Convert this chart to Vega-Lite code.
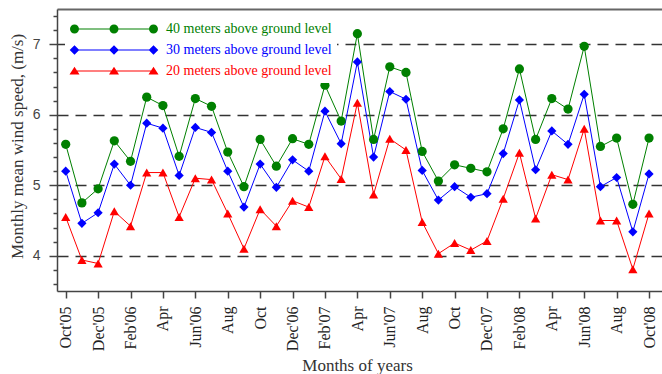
{
  "$schema": "https://vega.github.io/schema/vega-lite/v6.json",
  "width": 605,
  "height": 282,
  "autosize": {"type": "none"},
  "padding": {"left": 57, "top": 9, "right": 0, "bottom": 83},
  "background": "white",
  "config": {
    "view": {"stroke": null},
    "font": "Liberation Serif"
  },
  "data": {"values": [
    {"m":0,"series":"40 meters above ground level","speed":5.58},{"m":1,"series":"40 meters above ground level","speed":4.75},{"m":2,"series":"40 meters above ground level","speed":4.95},{"m":3,"series":"40 meters above ground level","speed":5.63},{"m":4,"series":"40 meters above ground level","speed":5.34},{"m":5,"series":"40 meters above ground level","speed":6.25},{"m":6,"series":"40 meters above ground level","speed":6.13},{"m":7,"series":"40 meters above ground level","speed":5.41},{"m":8,"series":"40 meters above ground level","speed":6.23},{"m":9,"series":"40 meters above ground level","speed":6.12},{"m":10,"series":"40 meters above ground level","speed":5.47},{"m":11,"series":"40 meters above ground level","speed":4.98},{"m":12,"series":"40 meters above ground level","speed":5.65},{"m":13,"series":"40 meters above ground level","speed":5.27},{"m":14,"series":"40 meters above ground level","speed":5.66},{"m":15,"series":"40 meters above ground level","speed":5.58},{"m":16,"series":"40 meters above ground level","speed":6.42},{"m":17,"series":"40 meters above ground level","speed":5.91},{"m":18,"series":"40 meters above ground level","speed":7.15},{"m":19,"series":"40 meters above ground level","speed":5.65},{"m":20,"series":"40 meters above ground level","speed":6.68},{"m":21,"series":"40 meters above ground level","speed":6.60},{"m":22,"series":"40 meters above ground level","speed":5.48},{"m":23,"series":"40 meters above ground level","speed":5.06},{"m":24,"series":"40 meters above ground level","speed":5.29},{"m":25,"series":"40 meters above ground level","speed":5.24},{"m":26,"series":"40 meters above ground level","speed":5.19},{"m":27,"series":"40 meters above ground level","speed":5.80},{"m":28,"series":"40 meters above ground level","speed":6.65},{"m":29,"series":"40 meters above ground level","speed":5.65},{"m":30,"series":"40 meters above ground level","speed":6.23},{"m":31,"series":"40 meters above ground level","speed":6.08},{"m":32,"series":"40 meters above ground level","speed":6.97},{"m":33,"series":"40 meters above ground level","speed":5.55},{"m":34,"series":"40 meters above ground level","speed":5.67},{"m":35,"series":"40 meters above ground level","speed":4.73},{"m":36,"series":"40 meters above ground level","speed":5.67},
    {"m":0,"series":"30 meters above ground level","speed":5.20},{"m":1,"series":"30 meters above ground level","speed":4.46},{"m":2,"series":"30 meters above ground level","speed":4.61},{"m":3,"series":"30 meters above ground level","speed":5.30},{"m":4,"series":"30 meters above ground level","speed":5.00},{"m":5,"series":"30 meters above ground level","speed":5.88},{"m":6,"series":"30 meters above ground level","speed":5.81},{"m":7,"series":"30 meters above ground level","speed":5.14},{"m":8,"series":"30 meters above ground level","speed":5.82},{"m":9,"series":"30 meters above ground level","speed":5.75},{"m":10,"series":"30 meters above ground level","speed":5.20},{"m":11,"series":"30 meters above ground level","speed":4.69},{"m":12,"series":"30 meters above ground level","speed":5.30},{"m":13,"series":"30 meters above ground level","speed":4.97},{"m":14,"series":"30 meters above ground level","speed":5.36},{"m":15,"series":"30 meters above ground level","speed":5.20},{"m":16,"series":"30 meters above ground level","speed":6.05},{"m":17,"series":"30 meters above ground level","speed":5.59},{"m":18,"series":"30 meters above ground level","speed":6.75},{"m":19,"series":"30 meters above ground level","speed":5.40},{"m":20,"series":"30 meters above ground level","speed":6.33},{"m":21,"series":"30 meters above ground level","speed":6.22},{"m":22,"series":"30 meters above ground level","speed":5.21},{"m":23,"series":"30 meters above ground level","speed":4.79},{"m":24,"series":"30 meters above ground level","speed":4.98},{"m":25,"series":"30 meters above ground level","speed":4.83},{"m":26,"series":"30 meters above ground level","speed":4.88},{"m":27,"series":"30 meters above ground level","speed":5.45},{"m":28,"series":"30 meters above ground level","speed":6.21},{"m":29,"series":"30 meters above ground level","speed":5.22},{"m":30,"series":"30 meters above ground level","speed":5.77},{"m":31,"series":"30 meters above ground level","speed":5.58},{"m":32,"series":"30 meters above ground level","speed":6.29},{"m":33,"series":"30 meters above ground level","speed":4.98},{"m":34,"series":"30 meters above ground level","speed":5.11},{"m":35,"series":"30 meters above ground level","speed":4.34},{"m":36,"series":"30 meters above ground level","speed":5.16},
    {"m":0,"series":"20 meters above ground level","speed":4.55},{"m":1,"series":"20 meters above ground level","speed":3.94},{"m":2,"series":"20 meters above ground level","speed":3.89},{"m":3,"series":"20 meters above ground level","speed":4.63},{"m":4,"series":"20 meters above ground level","speed":4.42},{"m":5,"series":"20 meters above ground level","speed":5.18},{"m":6,"series":"20 meters above ground level","speed":5.18},{"m":7,"series":"20 meters above ground level","speed":4.55},{"m":8,"series":"20 meters above ground level","speed":5.10},{"m":9,"series":"20 meters above ground level","speed":5.08},{"m":10,"series":"20 meters above ground level","speed":4.60},{"m":11,"series":"20 meters above ground level","speed":4.10},{"m":12,"series":"20 meters above ground level","speed":4.66},{"m":13,"series":"20 meters above ground level","speed":4.42},{"m":14,"series":"20 meters above ground level","speed":4.78},{"m":15,"series":"20 meters above ground level","speed":4.69},{"m":16,"series":"20 meters above ground level","speed":5.41},{"m":17,"series":"20 meters above ground level","speed":5.09},{"m":18,"series":"20 meters above ground level","speed":6.17},{"m":19,"series":"20 meters above ground level","speed":4.87},{"m":20,"series":"20 meters above ground level","speed":5.66},{"m":21,"series":"20 meters above ground level","speed":5.50},{"m":22,"series":"20 meters above ground level","speed":4.48},{"m":23,"series":"20 meters above ground level","speed":4.03},{"m":24,"series":"20 meters above ground level","speed":4.18},{"m":25,"series":"20 meters above ground level","speed":4.08},{"m":26,"series":"20 meters above ground level","speed":4.21},{"m":27,"series":"20 meters above ground level","speed":4.81},{"m":28,"series":"20 meters above ground level","speed":5.46},{"m":29,"series":"20 meters above ground level","speed":4.53},{"m":30,"series":"20 meters above ground level","speed":5.15},{"m":31,"series":"20 meters above ground level","speed":5.08},{"m":32,"series":"20 meters above ground level","speed":5.80},{"m":33,"series":"20 meters above ground level","speed":4.50},{"m":34,"series":"20 meters above ground level","speed":4.50},{"m":35,"series":"20 meters above ground level","speed":3.81},{"m":36,"series":"20 meters above ground level","speed":4.60}
  ]},
  "resolve": {"axis": {"x": "independent", "y": "independent"}},
  "layer": [
    {
      "mark": {"type": "line", "strokeWidth": 1, "clip": false},
      "encoding": {
        "x": {
          "field": "m", "type": "quantitative",
          "scale": {"domain": [-0.537, 36.8], "nice": false, "zero": false},
          "axis": {
            "orient": "bottom",
            "values": [0,2,4,6,8,10,12,14,16,18,20,22,24,26,28,30,32,34,36],
            "labelExpr": "[\"Oct'05\",\"Dec'05\",\"Feb'06\",\"Apr\",\"Jun'06\",\"Aug\",\"Oct\",\"Dec'06\",\"Feb'07\",\"Apr\",\"Jun'07\",\"Aug\",\"Oct\",\"Dec'07\",\"Feb'08\",\"Apr\",\"Jun'08\",\"Aug\",\"Oct'08\"][round(datum.value/2)]",
            "labelAngle": 270, "labelAlign": "right", "labelBaseline": "middle",
            "labelFont": "Liberation Serif", "labelFontSize": 16, "labelColor": "#222",
            "labelPadding": 8, "labelOverlap": false, "labelFlush": false, "labelBound": false,
            "tickSize": 7, "tickColor": "#444", "tickWidth": 1.5,
            "domainColor": "#444", "domainWidth": 1.5,
            "grid": false,
            "title": "Months of years",
            "titleFont": "Liberation Serif", "titleFontSize": 17, "titleFontWeight": "normal", "titleColor": "#333",
            "titleX": 300, "titleY": 79, "titleBaseline": "alphabetic", "titleAlign": "center"
          }
        },
        "y": {
          "field": "speed", "type": "quantitative",
          "scale": {"domain": [3.5, 7.5], "nice": false, "zero": false},
          "axis": {
            "orient": "left",
            "values": [4, 5, 6, 7],
            "grid": true, "gridDash": [11, 7], "gridColor": "#333", "gridWidth": 1.5,
            "tickSize": 8, "tickColor": "#444", "tickWidth": 1.5,
            "domainColor": "#444", "domainWidth": 1.5,
            "labelFont": "Liberation Sans", "labelFontSize": 14, "labelColor": "#444", "labelPadding": 9,
            "title": "Monthly mean wind speed, (m/s)",
            "titleFont": "Liberation Serif", "titleFontSize": 17, "titleFontWeight": "normal", "titleColor": "#333",
            "titleAngle": 270, "titleX": -40, "titleY": 137, "titleBaseline": "middle", "titleAlign": "center"
          }
        },
        "color": {
          "field": "series", "type": "nominal",
          "scale": {
            "domain": ["40 meters above ground level", "30 meters above ground level", "20 meters above ground level"],
            "range": ["#008000", "#0000ff", "#ff0000"]
          },
          "legend": {
            "orient": "none", "legendX": 8, "legendY": 8,
            "title": null, "direction": "vertical",
            "fillColor": "white", "padding": 5,
            "symbolSize": 100, "symbolStrokeWidth": 0, "symbolOffset": 37, "symbolOpacity": 1,
            "symbolFillColor": {"expr": "datum.value === '30 meters above ground level' ? '#0000ff' : datum.value === '20 meters above ground level' ? '#ff0000' : '#008000'"},
            "symbolType": {"expr": "datum.value === '30 meters above ground level' ? 'M-7.9,-0.1H7.9V0.1H-7.9Z M-8.86,0L-7.9,-0.96L-6.94,0L-7.9,0.96Z M-0.96,0L0,-0.96L0.96,0L0,0.96Z M6.94,0L7.9,-0.96L8.86,0L7.9,0.96Z' : datum.value === '20 meters above ground level' ? 'M-7.9,-0.1H7.9V0.1H-7.9Z M-7.9,-0.85L-6.9,0.7L-8.9,0.7Z M0,-0.85L1,0.7L-1,0.7Z M7.9,-0.85L8.9,0.7L6.9,0.7Z' : 'M-7.9,-0.1H7.9V0.1H-7.9Z M-8.8,0A0.9,0.9 0 1 1 -7,0A0.9,0.9 0 1 1 -8.8,0Z M-0.9,0A0.9,0.9 0 1 1 0.9,0A0.9,0.9 0 1 1 -0.9,0Z M7,0A0.9,0.9 0 1 1 8.8,0A0.9,0.9 0 1 1 7,0Z'"},
            "labelColor": {"expr": "datum.value === '30 meters above ground level' ? '#0000ff' : datum.value === '20 meters above ground level' ? '#ff0000' : '#008000'"},
            "labelOffset": 45, "labelFont": "Liberation Serif", "labelFontSize": 14, "rowPadding": 7,
            "labelLimit": 400
          }
        }
      }
    },
    {
      "mark": {"type": "point", "filled": true, "opacity": 1, "size": 85, "strokeWidth": 0, "clip": false},
      "encoding": {
        "x": {
          "field": "m", "type": "quantitative",
          "axis": {
            "orient": "top", "domain": true, "domainColor": "#666", "domainWidth": 2,
            "ticks": false, "labels": false, "grid": false, "title": null
          }
        },
        "y": {
          "field": "speed", "type": "quantitative",
          "axis": {
            "orient": "left",
            "values": [3.6, 3.8, 4.2, 4.4, 4.6, 4.8, 5.2, 5.4, 5.6, 5.8, 6.2, 6.4, 6.6, 6.8, 7.2, 7.4],
            "domain": false, "grid": false, "labels": false, "title": null,
            "tickSize": 4, "tickColor": "#444", "tickWidth": 1.5
          }
        },
        "color": {"field": "series", "type": "nominal", "legend": null},
        "shape": {
          "field": "series", "type": "nominal",
          "scale": {
            "domain": ["20 meters above ground level", "30 meters above ground level", "40 meters above ground level"],
            "range": ["triangle-up", "diamond", "circle"]
          },
          "legend": null
        }
      }
    }
  ]
}
